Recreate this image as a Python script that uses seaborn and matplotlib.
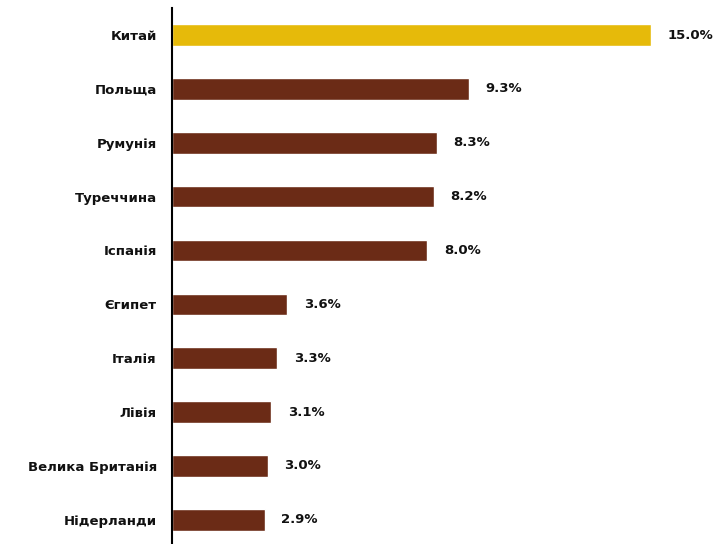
import pandas as pd
import matplotlib.pyplot as plt
import seaborn as sns

countries = ["Китай", "Польща", "Румунія", "Туреччина", "Іспанія",
             "Єгипет", "Італія", "Лівія", "Велика Британія", "Нідерланди"]
shares = [15.0, 9.3, 8.3, 8.2, 8.0, 3.6, 3.3, 3.1, 3.0, 2.9]

df = pd.DataFrame({"country": countries, "share": shares})

sns.set_style("white")
plt.rcParams["font.family"] = ["DejaVu Sans"]

fig = plt.figure(figsize=(7.26, 5.44), dpi=100)
ax = fig.add_axes([0.237, 0.0, 0.763, 0.985])

palette = ["#E6BA0A"] + ["#6B2B16"] * (len(countries) - 1)
sns.barplot(data=df, x="share", y="country", hue="country", palette=palette,
            legend=False, width=0.4, ax=ax, saturation=1)

for i, v in enumerate(shares):
    ax.text(v + 0.52, i, f"{v:.1f}%", va="center", ha="left",
            fontsize=9.5, fontweight="bold", color="#111111")

ax.set_xlim(0, 17.35)
ax.set_ylim(9.45, -0.5)
ax.set_xlabel("")
ax.set_ylabel("")
ax.set_xticks([])
for lbl in ax.get_yticklabels():
    lbl.set_fontweight("bold")
    lbl.set_fontsize(9.5)
    lbl.set_color("#111111")
ax.tick_params(axis="y", length=0, pad=11)
for s in ["top", "right", "bottom"]:
    ax.spines[s].set_visible(False)
ax.spines["left"].set_color("black")
ax.spines["left"].set_linewidth(1.5)

fig.savefig("out.png", dpi=100)
